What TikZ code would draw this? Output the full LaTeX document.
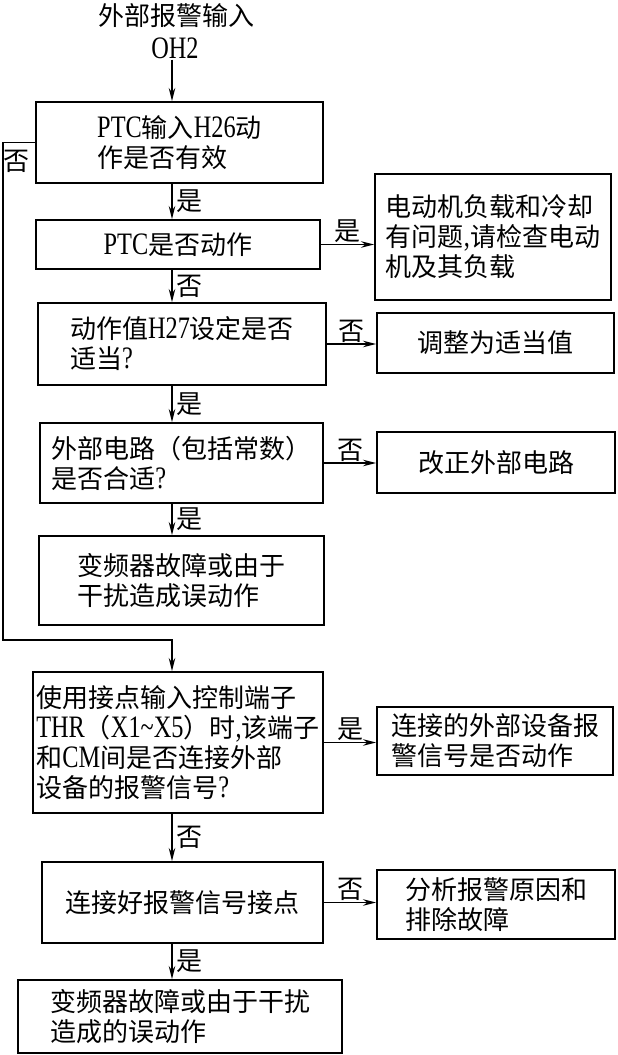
\documentclass[tikz,border=0pt]{standalone}
\usepackage{fontspec}
\setmainfont{Noto Sans CJK SC}
\newfontfamily\lat[Scale=1.2, FakeStretch=0.78]{Liberation Serif}
\usetikzlibrary{arrows.meta, calc}

\begin{document}
\begin{tikzpicture}[x=1pt, y=-1pt,
                  every node/.style={font=\fontsize{26}{30}\selectfont, inner sep=1pt},
                  box/.style={draw, line width=1.9pt, align=left},
                  arr/.style={line width=1.7pt, -{Stealth[length=13pt, width=6.5pt]}},
                  lbl/.style={inner sep=1pt}]

    \useasboundingbox (0,0) rectangle (618,1055); % same size as the scan

    \coordinate (mid) at (172,0); % x of the vertical arrows
    \coordinate (fb)  at (3,640); % corner of the return line

    \node (ttl) at (176,16) {外部报警输入};
    \node (oh)  at (175,48) {\lat OH2};

    \node[box, minimum width=287pt, minimum height=81pt]  (q1) at (179.5,142.5) {{\lat PTC}输入{\lat H26}动\\作是否有效};
    \node[box, minimum width=284pt, minimum height=49pt]  (q2) at (178,244.5)   {{\lat PTC}是否动作};
    \node[box, minimum width=288pt, minimum height=82pt]  (q3) at (182,344)     {动作值{\lat H27}设定是否\\适当{\lat ?}};
    \node[box, minimum width=283pt, minimum height=80pt]  (q4) at (181.5,463)   {外部电路（包括常数）\\是否合适{\lat ?}};
    \node[box, minimum width=285pt, minimum height=89pt]  (e1) at (181.5,580.5) {变频器故障或由于\\干扰造成误动作};
    \node[box, minimum width=290pt, minimum height=141pt] (q5) at (178,742.5)   {使用接点输入控制端子\\{\lat THR}（{\lat X1\char`~X5}）时{\lat ,}该端子\\和{\lat CM}间是否连接外部\\设备的报警信号{\lat ?}};
    \node[box, minimum width=281pt, minimum height=81pt]  (q6) at (182.5,902.5) {连接好报警信号接点};
    \node[box, minimum width=324pt, minimum height=73pt]  (e2) at (180,1016.5)  {变频器故障或由于干扰\\造成的误动作};

    \node[box, minimum width=236pt, minimum height=126pt] (r1) at (493,237)     {电动机负载和冷却\\有问题{\lat ,}请检查电动\\机及其负载};
    \node[box, minimum width=237pt, minimum height=60pt]  (r2) at (495.5,343)   {调整为适当值};
    \node[box, minimum width=238pt, minimum height=61pt]  (r3) at (496,462.5)   {改正外部电路};
    \node[box, minimum width=236pt, minimum height=68pt]  (r4) at (495,741)     {连接的外部设备报\\警信号是否动作};
    \node[box, minimum width=238pt, minimum height=69pt]  (r5) at (496,904.5)   {分析报警原因和\\排除故障};

    \draw[arr] (oh.south -| mid) -- (q1.north -| mid);
    \draw[arr] (q1.south -| mid) -- node[lbl, right, xshift=3pt] {是} (q2.north -| mid);
    \draw[arr] (q2.south -| mid) -- node[lbl, right, xshift=3pt] {否} (q3.north -| mid);
    \draw[arr] (q3.south -| mid) -- node[lbl, right, xshift=3pt] {是} (q4.north -| mid);
    \draw[arr] (q4.south -| mid) -- node[lbl, right, xshift=3pt] {是} (e1.north -| mid);
    \draw[arr] (q5.south -| mid) -- node[lbl, right, xshift=3pt] {否} (q6.north -| mid);
    \draw[arr] (q6.south -| mid) -- node[lbl, right, xshift=3pt] {是} (e2.north -| mid);

    \draw[arr] (q2.east) -- node[lbl, above] {是} (q2.east -| r1.west);
    \draw[arr] (q3.east) -- node[lbl, above] {否} (q3.east -| r2.west);
    \draw[arr] (q4.east) -- node[lbl, above] {否} (q4.east -| r3.west);
    \draw[arr] (q5.east) -- node[lbl, above] {是} (q5.east -| r4.west);
    \draw[arr] (q6.east) -- node[lbl, above] {否} (q6.east -| r5.west);

    % return line on the left
    \draw[arr] (q1.west) -| (fb) -| (q5.north -| mid);
    \node[lbl] (n0) at (17,161) {否};

\end{tikzpicture}
\end{document}
